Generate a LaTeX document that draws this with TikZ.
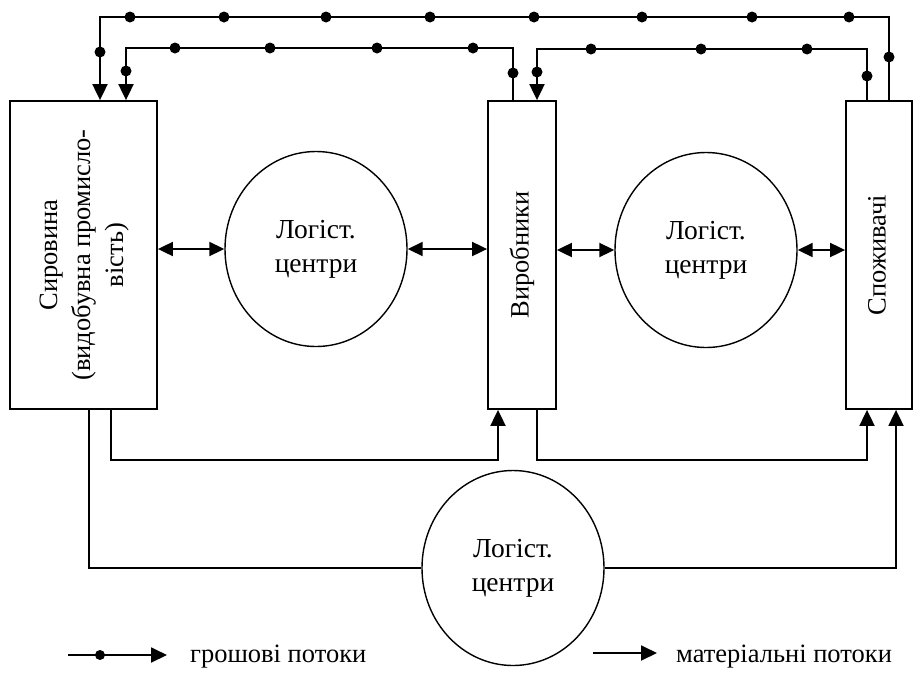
\documentclass[tikz,border=0pt]{standalone}
\usepackage{fontspec}
\setmainfont{Liberation Serif}
\usepackage{graphicx}
\usetikzlibrary{arrows.meta,shapes.geometric}
\tikzset{x=1pt, y=-1pt}
\tikzset{
  block/.style={draw, line width=1.8pt, inner sep=0pt, font=\fontsize{26.5}{33}\selectfont},
  centre/.style={draw, ellipse, line width=1.4pt, inner sep=0pt, minimum width=182pt, minimum height=195pt, align=center, font=\fontsize{27.5}{34}\selectfont},
  flow/.style={line width=1.9pt, -{Triangle[length=16pt,width=15pt]}},
  both/.style={line width=1.9pt, {Triangle[length=15pt,width=14pt]}-{Triangle[length=15pt,width=14pt]}},
  legtext/.style={anchor=west, inner sep=0pt, font=\fontsize{26.5}{32}\selectfont},
}
\newcommand{\vtext}[1]{\rotatebox{90}{\begin{tabular}{@{}c@{}}#1\end{tabular}}}

\begin{document}
\begin{tikzpicture}
\useasboundingbox (0,0) rectangle (915,673);
% blocks
\node[block, minimum width=147pt, minimum height=308pt] (raw) at (83.5,255) {\vtext{Сировина\\(видобувна промисло-\\вість)}};
\node[block, minimum width=68pt, minimum height=308pt] (mfr) at (522,255) {\vtext{Виробники}};
\node[block, minimum width=66pt, minimum height=308pt] (cons) at (879,255) {\vtext{Споживачі}};
% logistic centres
\node[centre] (lc1) at (316,249) {Логіст.\\центри};
\node[centre] (lc2) at (706,250) {Логіст.\\центри};
\node[centre] (lc3) at (513,568) {Логіст.\\центри};
% money flows, top
\draw[flow] (cons.north -| 889,0) |- (100,17) -- (raw.north -| 100,0);
\draw[flow] (mfr.north -| 513,0) |- (126,48) -- (raw.north -| 126,0);
\draw[flow] (cons.north -| 867,0) |- (537,49) -- (mfr.north -| 537,0);
\foreach \x in {130,224,326,430,534,642,752,849}
  \fill (\x,17) circle (5.5pt);
\foreach \x in {175,270,377,473}
  \fill (\x,48) circle (5.5pt);
\foreach \x in {591,701,807}
  \fill (\x,49) circle (5.5pt);
\foreach \p in {(100,52),(889,57),(126,71),(513,73),(537,72),(867,76)}
  \fill \p circle (5.5pt);
% exchange with the centres
\draw[both] (raw.east |- lc1.west) -- (lc1.west);
\draw[both] (lc1.east) -- (mfr.west |- lc1.east);
\draw[both] (mfr.east |- lc2.west) -- (lc2.west);
\draw[both] (lc2.east) -- (cons.west |- lc2.east);
% material flows, bottom
\draw[flow] (raw.south -| 111,0) |- (498,460) -- (mfr.south -| 498,0);
\draw[flow] (mfr.south -| 537,0) |- (867,460) -- (cons.south -| 867,0);
\draw[line width=1.9pt] (raw.south -| 89,0) |- (lc3.west);
\draw[flow] (lc3.east) -| (cons.south -| 896,0);
% legend
\coordinate (m0) at (68,655);
\coordinate (m1) at (167,655);
\draw[flow] (m0) -- (m1);
\fill (100,655) circle (5pt);
\node[legtext] (mtext) at (190,657) {грошові потоки};
\coordinate (g0) at (593,653);
\coordinate (g1) at (657,653);
\draw[flow] (g0) -- (g1);
\node[legtext] (gtext) at (676,657) {матеріальні потоки};
\end{tikzpicture}
\end{document}
